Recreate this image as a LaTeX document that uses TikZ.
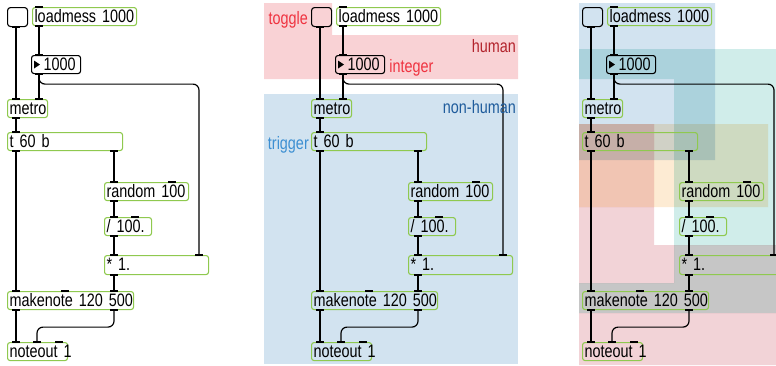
\documentclass[tikz,border=0pt]{standalone}
\usepackage{fontspec}
\setmainfont{Liberation Sans}
\newfontfamily\pdfont[FakeStretch=0.8]{Liberation Sans}
\usetikzlibrary{positioning,calc}
\definecolor{pdgreen}{HTML}{8FC94F}
\definecolor{humanfill}{HTML}{F9D2D5}
\definecolor{humanink}{HTML}{B3242D}
\definecolor{toggleink}{HTML}{EF3340}
\definecolor{machinefill}{HTML}{D2E3F0}
\definecolor{machineink}{HTML}{1F5C9C}
\definecolor{triggerink}{HTML}{3C8FD2}
\definecolor{zblue}{HTML}{D2E3F0}
\definecolor{zcyan}{HTML}{D0EDEA}
\definecolor{zorange}{HTML}{F1C5B3}
\definecolor{zbeige}{HTML}{FDEBD3}
\definecolor{zpink}{HTML}{F2D3D7}
\definecolor{zgray}{HTML}{C6C6C6}

% narrow word space, as in the Pd canvas font
\newcommand{\pdsize}{\pdfont\fontsize{18pt}{18pt}\selectfont\fontdimen2\font=2.8pt}
% port bars on a box edge: \inlet{node}{offset from left}
\newcommand{\inlet}[2]{\draw[port] ([xshift=#2pt-4pt]#1.north west) -- ++(8,0);}
\newcommand{\outlet}[2]{\draw[port] ([xshift=#2pt-4pt]#1.south west) -- ++(8,0);}
% straight patch cord: \wire{from}{outlet}{to}{inlet}
\newcommand{\wire}[4]{\draw[wire] ([xshift=#2pt]#1.south west) -- ([xshift=#4pt]#3.north west);}

% the metro / random / makenote patch, drawn once per panel
\newcommand{\patch}{%
  \node[toggle] (tgl) at (7,7) {};
  \node[obj, text width=100pt] (ldm) at (32,7) {loadmess 1000};
  \node[obj, draw=black, text width=45pt] (num) at (31,55) {\hspace*{10pt}1000};
  \fill ([xshift=3pt]num.west) ++(0,-4) -- ++(0,8) -- ++(6,-4) -- cycle;
  \node[obj, text width=36pt] (met) at (7,99) {metro};
  \node[obj, text width=111pt] (trg) at (7,132) {t 60 b};
  \node[obj, text width=80pt] (rnd) at (104,182) {random 100};
  \node[obj, text width=43pt] (dvd) at (104,217) {/ 100.};
  \node[obj, text width=100pt, minimum height=19pt] (mul) at (104,255) {* 1.};
  \node[obj, text width=122pt] (mkn) at (7,291) {makenote 120 500};
  \node[obj, text width=56pt] (nto) at (7,342) {noteout 1};
  % cords
  \wire{tgl}{9}{met}{9}
  \wire{ldm}{7}{num}{8}
  \wire{num}{8}{met}{32}
  \draw[wire, rounded corners=6pt] ([xshift=8pt]num.south west) -- ++(0,10) -| ([xshift=95pt]mul.north west);
  \wire{met}{9}{trg}{9}
  \wire{trg}{9}{mkn}{9}
  \wire{trg}{107}{rnd}{10}
  \wire{rnd}{10}{dvd}{10}
  \wire{dvd}{10}{mul}{10}
  \wire{mul}{10}{mkn}{107}
  \wire{mkn}{9}{nto}{9}
  \draw[wire, rounded corners=6pt] ([xshift=107pt]mkn.south west) -- ++(0,17) -| ([xshift=30pt]nto.north west);
  % inlets and outlets
  \outlet{tgl}{9}
  \inlet{ldm}{7} \outlet{ldm}{7}
  \inlet{num}{8} \outlet{num}{8}
  \inlet{met}{9} \inlet{met}{32} \outlet{met}{9}
  \inlet{trg}{9} \outlet{trg}{9} \outlet{trg}{107}
  \inlet{rnd}{10} \inlet{rnd}{68} \outlet{rnd}{10}
  \inlet{dvd}{10} \inlet{dvd}{31} \outlet{dvd}{10}
  \inlet{mul}{10} \inlet{mul}{95} \outlet{mul}{10}
  \inlet{mkn}{9} \inlet{mkn}{58} \inlet{mkn}{107} \outlet{mkn}{9} \outlet{mkn}{107}
  \inlet{nto}{9} \inlet{nto}{30} \inlet{nto}{52}
}

\begin{document}
\begin{tikzpicture}[
  x=1pt, y=-1pt,
  obj/.style={draw=pdgreen, line width=1.1pt, rounded corners=2.5pt, anchor=north west,
              minimum height=18pt, inner xsep=2pt, inner ysep=0pt, align=left,
              text height=11pt, text depth=0pt, font=\pdsize,
              execute at begin node=\hbox\bgroup, execute at end node=\egroup},
  toggle/.style={draw=black, line width=1.1pt, rounded corners=3pt, anchor=north west,
                 minimum width=20pt, minimum height=19pt, inner sep=0pt},
  wire/.style={line width=1.2pt},
  port/.style={line width=2.4pt},
  lbl/.style={font=\pdsize, inner sep=1pt},
]
\useasboundingbox (0,0) rectangle (776,365);

% ================= LEFT : plain patch =================
\begin{scope}[name prefix=p1-]
  \patch
\end{scope}

% ================= MIDDLE : human / non-human =================
\fill[humanfill] (264,3) -- (332,3) -- (332,35) -- (518,35) -- (518,79) -- (264,79) -- cycle;
\fill[machinefill] (264,94) rectangle (518,364);
\begin{scope}[xshift=304pt, name prefix=p2-]
  \patch
  \node[lbl, text=toggleink, left=2pt of tgl, yshift=-3pt] (ltgl) {toggle};
  \node[lbl, text=toggleink, right=3pt of num, yshift=-3pt] (lnum) {integer};
  \node[lbl, text=triggerink, left=1pt of trg, yshift=-3pt] (ltrg) {trigger};
\end{scope}
\node[lbl, text=humanink, anchor=east] (lhuman) at (517,46) {human};
\node[lbl, text=machineink, anchor=east] (lmachine) at (517,107) {non-human};

% ================= RIGHT : overlapping zones =================
\begin{scope}[blend group=multiply]
  \fill[zblue] (579,3) rectangle (715,160);
  \fill[zcyan] (579,49) -- (776,49) -- (776,245) -- (674,245) -- (674,79) -- (579,79) -- cycle;
  \fill[zorange] (579,124) rectangle (654,207);
  \fill[zbeige] (654,124) rectangle (768,207);
  \fill[zpink] (579,207) -- (654,207) -- (654,245) -- (674,245) -- (674,283) -- (579,283) -- cycle;
  \fill[zgray] (674,245) -- (776,245) -- (776,313) -- (579,313) -- (579,283) -- (674,283) -- cycle;
  \fill[zpink] (579,313) rectangle (776,365);
\end{scope}
\begin{scope}[xshift=575pt, name prefix=p3-]
  \patch
\end{scope}
\end{tikzpicture}
\end{document}
